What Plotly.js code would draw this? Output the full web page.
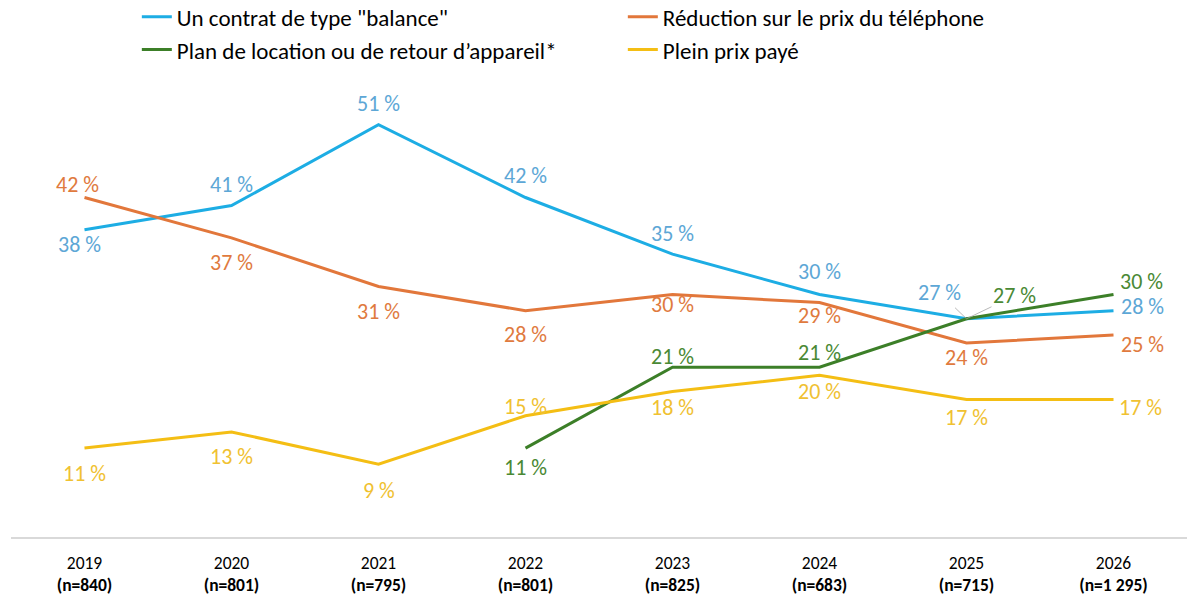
<!DOCTYPE html>
<html>
<head>
<meta charset="utf-8">
<script src="https://cdn.plot.ly/plotly-3.0.1.min.js"></script>
<style>html,body{margin:0;padding:0;background:#fff;}#chart{width:1195px;height:600px;}</style>
</head>
<body>
<div id="chart"></div>
<script>
// ---- data ----
const years = ['2019','2020','2021','2022','2023','2024','2025','2026'];
const sampleSizes = ['n=840','n=801','n=795','n=801','n=825','n=683','n=715','n=1 295'];
const seriesNames = ['Un contrat de type "balance"', 'Réduction sur le prix du téléphone', 'Plan de location ou de retour d\u2019appareil*', 'Plein prix payé'];
const balance   = [38, 41, 51, 42, 35, 30, 27, 28];
const reduction = [42, 37, 31, 28, 30, 29, 24, 25];
const location_ = [null, null, null, 11, 21, 21, 27, 30];
const pleinPrix = [11, 13, 9, 15, 18, 20, 17, 17];

// ---- style ----
const FONT = 'Carlito, Lato, "Noto Sans", sans-serif';
const lineColors  = ['#1DADE4', '#E2773B', '#3C7F28', '#F4BE14'];
const labelColors = ['#5DA7D6', '#E07A3E', '#4A8934', '#F0C131'];
// label offsets in px (dx, dy up-positive) for each point
const offsets = [
  [[-5,-15],[0,21],[0,21],[0,22],[0,21],[0,23],null,[29,4]],
  [[-7,13],[0,-25],[0,-25],[0,-24],[0,-10],[0,-13],[0,-14],[29,-10]],
  [null,null,null,[0,-19],[0,11],[0,15],null,[28,13]],
  [[0,-25],[0,-25],[0,-26],[0,9],[0,-16],[0,-16],[0,-18],[27,-8]]
];
// labels with leader lines (series index, point index, ax, ay)
const leaders = [[0,6,-27,-26],[2,6,48,-23]];

const allSeries = [balance, reduction, location_, pleinPrix];

const traces = allSeries.map((vals, i) => ({
  type: 'scatter', mode: 'lines', x: years, y: vals, name: seriesNames[i],
  line: {color: lineColors[i], width: 3}, connectgaps: false, hoverinfo: 'skip'
}));

const LBL = 22;
const annotations = [];
allSeries.forEach((vals, i) => {
  vals.forEach((v, j) => {
    if (v === null) return;
    const off = offsets[i][j];
    if (!off) return;
    annotations.push({x: j, y: v, xref: 'x', yref: 'y', text: v + '\u00a0%', showarrow: false,
      xshift: off[0], yshift: off[1], font: {family: FONT, size: LBL, color: labelColors[i]}});
  });
});
leaders.forEach(([i, j, ax, ay]) => {
  const v = allSeries[i][j];
  annotations.push({x: j, y: v, xref: 'x', yref: 'y', text: v + '\u00a0%', showarrow: true,
    ax: ax, ay: ay, arrowhead: 0, arrowwidth: 0.8, arrowcolor: '#A6A6A6', standoff: 0,
    font: {family: FONT, size: LBL, color: labelColors[i]}});
});

const tickText = years.map((y, k) => y + '<br><b>(' + sampleSizes[k] + ')</b>');

const layout = {
  width: 1195, height: 600,
  margin: {l: 11, r: 8, t: 52, b: 63, autoexpand: false},
  paper_bgcolor: '#ffffff', plot_bgcolor: '#ffffff',
  font: {family: FONT, color: '#000'},
  showlegend: true,
  legend: {orientation: 'h', x: 0.107, xanchor: 'left', y: 1.117, yanchor: 'top',
    entrywidth: 441, entrywidthmode: 'pixels', traceorder: 'normal',
    font: {family: FONT, size: 23, color: '#000'}, bgcolor: 'rgba(0,0,0,0)', tracegroupgap: 0},
  xaxis: {type: 'category', range: [-0.5, 7.5], showgrid: false, zeroline: false,
    showline: true, linecolor: '#D9D9D9', linewidth: 1.5, ticks: '', ticklabelstandoff: 9,
    tickvals: years, ticktext: tickText, tickfont: {family: FONT, size: 17.5, color: '#000'},
    fixedrange: true},
  yaxis: {range: [0, 60], visible: false, showgrid: false, zeroline: false, fixedrange: true},
  annotations: annotations
};

Plotly.newPlot('chart', traces, layout, {displayModeBar: false, staticPlot: true});
</script>
</body>
</html>
